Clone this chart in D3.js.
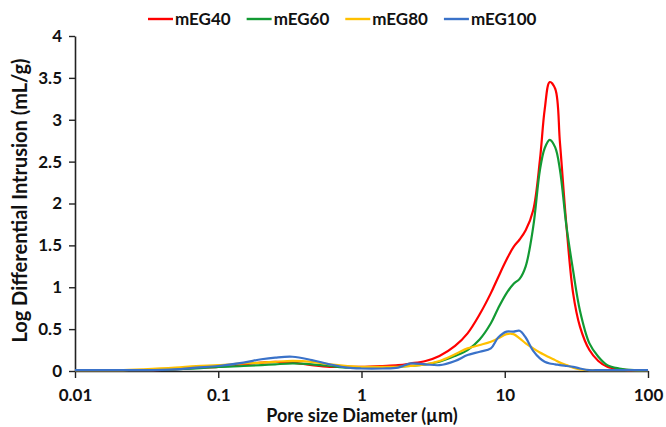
<!DOCTYPE html>
<html>
<head>
<meta charset="utf-8">
<script src="https://cdn.jsdelivr.net/npm/d3@7"></script>
<style>
  html, body { margin: 0; padding: 0; background: #fff; }
  svg { display: block; }
  text { font-family: Lato, "Open Sans", sans-serif; font-weight: 700; fill: #111; }
</style>
</head>
<body>
<svg id="chart" width="666" height="427"></svg>
<script>
// Pore diameters (µm) shared by all samples
const diameters = [0.01, 0.02, 0.03, 0.05, 0.07, 0.1, 0.15, 0.2, 0.25, 0.33, 0.45, 0.6, 0.8, 1.0,
  1.4, 1.8, 2.2, 2.8, 3.5, 4.5, 5.5, 6.7, 8, 9, 10.3, 11.5, 12.7, 14, 15.8, 17.6, 19, 20.6,
  22.5, 24.3, 27, 30, 33.5, 39, 45, 52, 63, 80, 100];

// Log differential intrusion (mL/g) per sample
const mEG40 = [0.01, 0.01, 0.01, 0.02, 0.04, 0.05, 0.08, 0.10, 0.11, 0.10, 0.07, 0.05, 0.05, 0.05,
  0.06, 0.07, 0.09, 0.12, 0.18, 0.30, 0.45, 0.68, 0.93, 1.12, 1.33, 1.48, 1.57, 1.68, 1.92, 2.52, 3.12, 3.45,
  3.37, 2.72, 1.72, 0.93, 0.53, 0.25, 0.12, 0.05, 0.02, 0.01, 0.01];
const mEG60 = [0.01, 0.01, 0.01, 0.02, 0.03, 0.05, 0.06, 0.07, 0.08, 0.09, 0.08, 0.06, 0.04, 0.04,
  0.04, 0.05, 0.06, 0.08, 0.11, 0.18, 0.25, 0.38, 0.57, 0.75, 0.93, 1.04, 1.10, 1.25, 1.72, 2.40, 2.66, 2.76,
  2.67, 2.40, 1.72, 1.20, 0.72, 0.33, 0.17, 0.07, 0.03, 0.01, 0.01];
const mEG80 = [0.01, 0.01, 0.02, 0.04, 0.06, 0.07, 0.09, 0.10, 0.11, 0.12, 0.11, 0.08, 0.06, 0.05,
  0.05, 0.05, 0.06, 0.08, 0.12, 0.20, 0.27, 0.31, 0.35, 0.39, 0.44, 0.44, 0.39, 0.33, 0.27, 0.22, 0.19, 0.16,
  0.13, 0.10, 0.07, 0.04, 0.02, 0.01, 0.01, 0.01, 0.01, 0.01, 0.01];
const mEG100 = [0.01, 0.01, 0.01, 0.02, 0.04, 0.06, 0.10, 0.14, 0.16, 0.17, 0.13, 0.08, 0.04, 0.03,
  0.03, 0.04, 0.09, 0.08, 0.07, 0.12, 0.19, 0.23, 0.27, 0.40, 0.47, 0.47, 0.48, 0.40, 0.24, 0.15, 0.11, 0.09,
  0.08, 0.07, 0.06, 0.05, 0.03, 0.01, 0.01, 0.01, 0.01, 0.01, 0.01];

const seriesNames = ["mEG40", "mEG60", "mEG80", "mEG100"];
const seriesValues = [mEG40, mEG60, mEG80, mEG100];
const seriesColors = ["#FF0000", "#129A33", "#FFC000", "#3A72C9"];

const xTicks = [0.01, 0.1, 1, 10, 100];
const xTickLabels = ["0.01", "0.1", "1", "10", "100"];
const yTicks = [0, 0.5, 1, 1.5, 2, 2.5, 3, 3.5, 4];
const yTickLabels = ["0", "0.5", "1", "1.5", "2", "2.5", "3", "3.5", "4"];

const xTitle = "Pore size Diameter (µm)";
const yTitle = "Log Differential Intrusion (mL/g)";

const svg = d3.select("#chart");
const plot = { left: 75, right: 648, top: 36, bottom: 371 };

const x = d3.scaleLog().domain([0.01, 100]).range([plot.left, plot.right]);
const y = d3.scaleLinear().domain([0, 4]).range([plot.bottom, plot.top]);

// Y axis
const yAxis = d3.axisLeft(y)
  .tickValues(yTicks)
  .tickFormat((d, i) => yTickLabels[i])
  .tickSizeInner(6).tickSizeOuter(0).tickPadding(7);
const gy = svg.append("g").attr("transform", `translate(${plot.left},0)`).call(yAxis);
gy.select(".domain").attr("stroke", "#222").attr("stroke-width", 1.6);
gy.selectAll(".tick line").attr("stroke", "#222").attr("stroke-width", 1.4);
gy.selectAll(".tick text").style("font-size", "17px").attr("fill", "#111")
  .style("font-family", "Lato, sans-serif").style("font-weight", 700);

// X axis
const xAxis = d3.axisBottom(x)
  .tickValues(xTicks)
  .tickFormat((d, i) => xTickLabels[i])
  .tickSizeInner(7).tickSizeOuter(0).tickPadding(11);
const gx = svg.append("g").attr("transform", `translate(0,${plot.bottom})`).call(xAxis);
gx.select(".domain").attr("stroke", "#222").attr("stroke-width", 1.6);
gx.selectAll(".tick line").attr("stroke", "#222").attr("stroke-width", 1.4);
gx.selectAll(".tick text").style("font-size", "17px").attr("fill", "#111")
  .style("font-family", "Lato, sans-serif").style("font-weight", 700);

// Axis titles
svg.append("text")
  .attr("x", 362)
  .attr("y", 422)
  .attr("text-anchor", "middle")
  .style("font-size", "18px")
  .text(xTitle);

svg.append("text")
  .attr("transform", `translate(27,${(plot.top + plot.bottom) / 2 - 3}) rotate(-90)`)
  .attr("text-anchor", "middle")
  .style("font-size", "20px")
  .text(yTitle);

// Smoothed series lines
const line = d3.line()
  .x((d, i) => x(diameters[i]))
  .y(d => y(d))
  .curve(d3.curveCatmullRom.alpha(0.5));

svg.append("g").selectAll("path")
  .data(seriesValues)
  .join("path")
  .attr("d", d => line(d))
  .attr("fill", "none")
  .attr("stroke", (d, i) => seriesColors[i])
  .attr("stroke-width", 2.2)
  .attr("stroke-linejoin", "round");

// Legend across the top
const legend = svg.append("g").attr("transform", "translate(148,19)");
let offset = 0;
seriesNames.forEach((name, i) => {
  const g = legend.append("g").attr("transform", `translate(${offset},0)`);
  g.append("line").attr("x1", 0).attr("x2", 25).attr("y1", 0).attr("y2", 0)
    .attr("stroke", seriesColors[i]).attr("stroke-width", 2.4);
  const t = g.append("text").attr("x", 27).attr("y", 6)
    .style("font-size", "17px").text(name);
  offset += 27 + t.node().getComputedTextLength() + 16;
});
</script>
</body>
</html>
